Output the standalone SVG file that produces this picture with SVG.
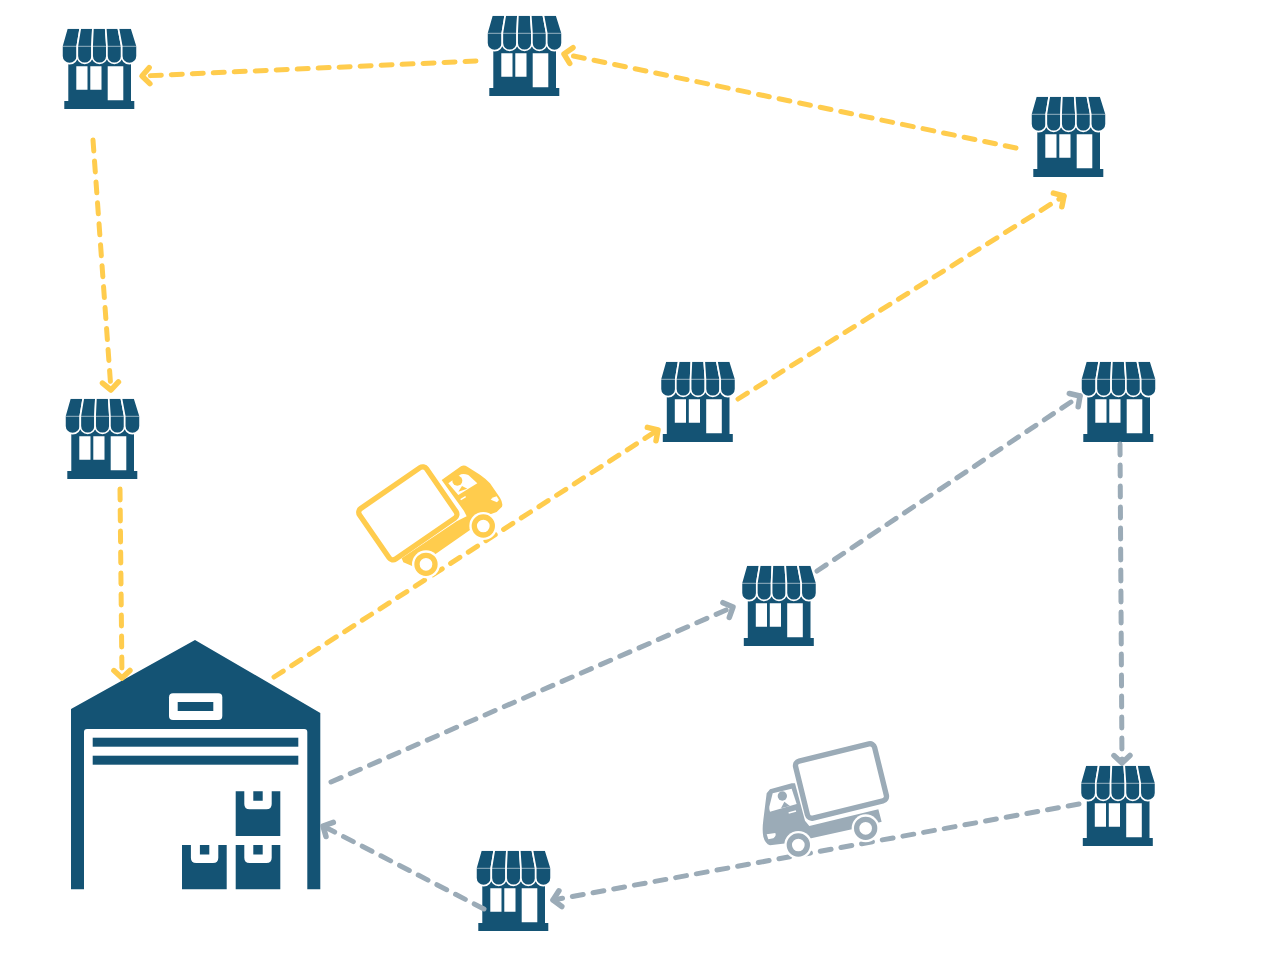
<svg xmlns="http://www.w3.org/2000/svg" xmlns:xlink="http://www.w3.org/1999/xlink" width="1280" height="965" viewBox="0 0 1280 965">
<style>
.link{fill:none;stroke-width:5;stroke-dasharray:11 10;stroke-linecap:round}
.y{stroke:#FFCC4D}
.g{stroke:#9BABB7}
.navy{fill:#145374}
.w{fill:#fff}
</style>
<defs>
<marker id="ay" markerUnits="userSpaceOnUse" markerWidth="24" markerHeight="24" refX="12" refY="12" orient="auto" overflow="visible"><path d="M4.500,4 L12,12 L4.500,20" fill="none" stroke="#FFCC4D" stroke-width="5.500" stroke-linecap="round" stroke-linejoin="round"/></marker>
<marker id="ag" markerUnits="userSpaceOnUse" markerWidth="24" markerHeight="24" refX="12" refY="12" orient="auto" overflow="visible"><path d="M4.500,4 L12,12 L4.500,20" fill="none" stroke="#9BABB7" stroke-width="5.500" stroke-linecap="round" stroke-linejoin="round"/></marker>
<g id="store">
<path class="navy" d="M5.800,24H68.500V72H71.800V80H1.800V72H5.800Z"/>
<path class="w" d="M13.800,37.300H25V60.700H13.800ZM27.800,37.300H39V60.700H27.800ZM45.200,37.300H60.800V71.300H45.200Z"/>
<g class="navy" stroke="#fff" stroke-width="1.700">
<path d="M4.500,-1H17.800L14.800,17V27A7.600,7.600 0 0 1 -0.600,27V17Z"/>
<path d="M17.800,-1H30.400L29.600,17V27A7.400,7.400 0 0 1 14.800,27V17Z"/>
<path d="M30.400,-1H43.200L44.400,17V27A7.400,7.400 0 0 1 29.600,27V17Z"/>
<path d="M43.200,-1H55.800L59.200,17V27A7.400,7.400 0 0 1 44.400,27V17Z"/>
<path d="M55.800,-1H69L74.600,17V27A7.700,7.700 0 0 1 59.200,27V17Z"/>
</g>
<path d="M0,17.300H74" stroke="#fff" stroke-opacity=".55" stroke-width="1"/>
<path d="M0,-1.200H74" stroke="#fff" stroke-width="1.800"/>
</g>
</defs>
<g id="warehouse">
<path class="navy" d="M195,640L320.300,713V889.300H307.300V732Q307.300,729 304.300,729H87Q84,729 84,732V889.300H71V709Z"/>
<rect class="w" x="169" y="693.300" width="53.300" height="26.700" rx="4"/>
<rect class="navy" x="177.700" y="702" width="35.600" height="9"/>
<rect class="navy" x="92.700" y="737.700" width="205.600" height="9"/>
<rect class="navy" x="92.700" y="755.700" width="205.600" height="9"/>
<g class="navy">
<path d="M235.700,791.300H244.300V804Q244.300,809.300 249.600,809.300H266.400Q271.700,809.300 271.700,804V791.300H280.300V836H235.700ZM253.300,791.300H262.700V800.700H253.300Z"/>
<path d="M235.700,845H244.300V857.700Q244.300,863 249.600,863H266.400Q271.700,863 271.700,857.700V845H280.300V889.300H235.700ZM253.300,845H262.700V854.400H253.300Z"/>
<path d="M182,845H190.900V857.700Q190.900,863 196.200,863H213Q218.300,863 218.300,857.700V845H226.700V889.300H182ZM199.900,845H209.300V854.400H199.900Z"/>
</g>
</g>
<use id="store1" href="#store" x="62.500" y="29"/>
<use id="store2" href="#store" x="487.500" y="16"/>
<use id="store3" href="#store" x="1031.500" y="97"/>
<use id="store4" href="#store" x="65.500" y="399"/>
<use id="store5" href="#store" x="661" y="362"/>
<use id="store6" href="#store" x="1081.500" y="362"/>
<use id="store7" href="#store" x="742" y="566"/>
<use id="store8" href="#store" x="1081" y="766"/>
<use id="store9" href="#store" x="476.500" y="851"/>
<g id="connectors">
<path class="link y" marker-end="url(#ay)" d="M476,61L142,76"/>
<path class="link y" marker-end="url(#ay)" d="M1016,148L564,54"/>
<path class="link y" marker-end="url(#ay)" d="M93,140L111,390"/>
<path class="link y" marker-end="url(#ay)" d="M120,489L122,678"/>
<path class="link y" marker-end="url(#ay)" d="M274,677L658,430"/>
<path class="link y" marker-end="url(#ay)" d="M738,399L1064,196"/>
<path class="link g" marker-end="url(#ag)" d="M331,782L733,607"/>
<path class="link g" marker-end="url(#ag)" d="M817,571L1080,396"/>
<path class="link g" marker-end="url(#ag)" d="M1120,444L1122,763"/>
<path class="link g" marker-end="url(#ag)" d="M1079,804L553,900"/>
<path class="link g" marker-end="url(#ag)" d="M484,909L323,826"/>
</g>
<g id="truck-yellow" transform="translate(340,450) scale(.3333)">
<rect x="-122" y="-92" width="244" height="184" rx="14" transform="translate(203.500,190) rotate(-34.600)" fill="#fff" stroke="#FFCC4D" stroke-width="16"/>
<path fill="#FFCC4D" d="M305,90L363,49Q372,44 382,50L420,74Q440,88 450,100L480,143Q490,160 486,170L470,186L445,195L390,240L290,310L225,352L190,337L185,325L350,214L380,199L372,183Z"/>
<path class="w" d="M325,100L363,73Q372,70 385,75L412,100L355,135Z"/>
<circle cx="352" cy="92" r="15" fill="#FFCC4D"/>
<path fill="#FFCC4D" d="M355,125L366,108L382,116Z"/>
<path d="M362,149L377,140" stroke="#fff" stroke-width="4"/>
<path d="M456,151L471,157L477,150L470,139Q462,141 452,148Z" fill="#fff"/>
<circle cx="430" cy="228" r="42" fill="#fff"/>
<circle cx="430" cy="228" r="27" fill="#fff" stroke="#FFCC4D" stroke-width="16"/>
<circle cx="258" cy="343" r="42" fill="#fff"/>
<circle cx="258" cy="343" r="27" fill="#fff" stroke="#FFCC4D" stroke-width="16"/>
</g>
<g id="truck-grey" transform="translate(750,730) scale(.3333)">
<rect x="-122" y="-88" width="244" height="176" rx="14" transform="translate(273,153) rotate(-13.800)" fill="#fff" stroke="#9BABB7" stroke-width="16"/>
<path fill="#9BABB7" d="M60,178L125,160L135,160L165,272L178,288L385,238L395,275L340,290L170,328L110,340L60,346Q45,340 40,320Q36,300 40,270L50,190Z"/>
<path class="w" d="M68,190L125,176L140,222L60,245Q57,238 58,230Z"/>
<circle cx="97" cy="198" r="14" fill="#9BABB7"/>
<path fill="#9BABB7" d="M93,235L103,215L120,228Z"/>
<path d="M116,249L138,243" stroke="#fff" stroke-width="4"/>
<path d="M50,313L76,309Q80,318 70,325L55,328Z" fill="#fff"/>
<circle cx="145" cy="345" r="42" fill="#fff"/>
<circle cx="145" cy="345" r="27" fill="#fff" stroke="#9BABB7" stroke-width="16"/>
<circle cx="347" cy="295" r="42" fill="#fff"/>
<circle cx="347" cy="295" r="27" fill="#fff" stroke="#9BABB7" stroke-width="16"/>
</g>
</svg>
